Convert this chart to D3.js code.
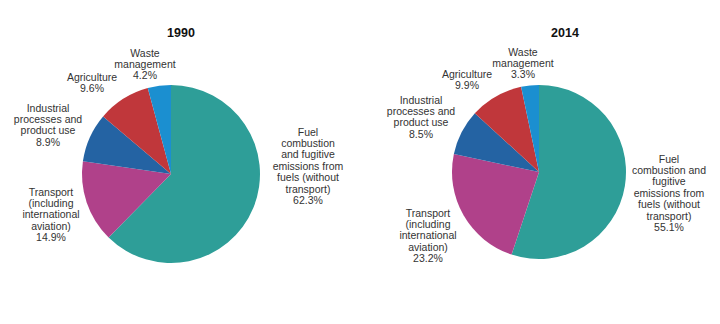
<!DOCTYPE html>
<html>
<head>
<meta charset="utf-8">
<script src="https://cdn.jsdelivr.net/npm/d3@7"></script>
<style>
  html, body { margin: 0; padding: 0; background: #ffffff; }
  svg { display: block; }
</style>
</head>
<body>
<div id="chart"></div>
<script>
// ---- data ----
const categories = [
  "Fuel combustion and fugitive emissions from fuels (without transport)",
  "Transport (including international aviation)",
  "Industrial processes and product use",
  "Agriculture",
  "Waste management"
];
const years = ["1990", "2014"];
const values1990 = [62.3, 14.9, 8.9, 9.6, 4.2];
const values2014 = [55.1, 23.2, 8.5, 9.9, 3.3];
const labelLines1990 = [
  ["Fuel", "combustion", "and fugitive", "emissions from", "fuels (without", "transport)"],
  ["Transport", "(including", "international", "aviation)"],
  ["Industrial", "processes and", "product use"],
  ["Agriculture"],
  ["Waste", "management"]
];
const labelLines2014 = [
  ["Fuel", "combustion and", "fugitive", "emissions from", "fuels (without", "transport)"],
  ["Transport", "(including", "international", "aviation)"],
  ["Industrial", "processes and", "product use"],
  ["Agriculture"],
  ["Waste", "management"]
];

// ---- styles / layout (kept separate from data) ----
const colors = ["#2e9e98", "#b0418a", "#2463a3", "#c0373b", "#1b8fd0"];
const W = 720, H = 324;
const pies = [
  { year: years[0], values: values1990, lines: labelLines1990, cx: 171, cy: 174, r: 89,
    titleX: 181, titleY: 33,
    offsets: [[137, -42], [-120, 18], [-123, -66], [-79, -97], [-26, -121]] },
  { year: years[1], values: values2014, lines: labelLines2014, cx: 539, cy: 172, r: 87,
    titleX: 565, titleY: 33,
    offsets: [[130, -13], [-111, 41], [-118, -72], [-72, -98], [-16, -120]] }
];
const lineH = 11.4;

const svg = d3.select("#chart").append("svg")
  .attr("width", W).attr("height", H);

const color = d3.scaleOrdinal().domain(categories).range(colors);
const pie = d3.pie().sort(null).value(d => d.value).startAngle(0).endAngle(2 * Math.PI);

pies.forEach(p => {
  const data = categories.map((c, i) => ({ cat: c, value: p.values[i], lines: p.lines[i], off: p.offsets[i] }));
  const arc = d3.arc().innerRadius(0).outerRadius(p.r);
  const g = svg.append("g").attr("transform", `translate(${p.cx},${p.cy})`);

  g.selectAll("path.slice")
    .data(pie(data))
    .join("path")
    .attr("class", "slice")
    .attr("d", arc)
    .attr("fill", d => color(d.data.cat));

  svg.append("text")
    .attr("x", p.titleX).attr("y", p.titleY)
    .attr("text-anchor", "middle")
    .attr("dominant-baseline", "central")
    .attr("font-family", "Liberation Sans, Arial, sans-serif")
    .attr("font-size", 12.5)
    .attr("font-weight", "bold")
    .attr("fill", "#111")
    .text(p.year);

  const lbl = g.selectAll("text.lbl")
    .data(data)
    .join("text")
    .attr("class", "lbl")
    .attr("text-anchor", "middle")
    .attr("font-family", "Liberation Sans, Arial, sans-serif")
    .attr("font-size", 10.5)
    .attr("fill", "#333");

  lbl.each(function(d) {
    const t = d3.select(this);
    const all = d.lines.concat([d3.format(".1f")(d.value) + "%"]);
    all.forEach((s, k) => {
      t.append("tspan")
        .attr("x", d.off[0])
        .attr("y", d.off[1] + k * lineH)
        .attr("dy", "0.35em")
        .text(s);
    });
  });
});
</script>
</body>
</html>
